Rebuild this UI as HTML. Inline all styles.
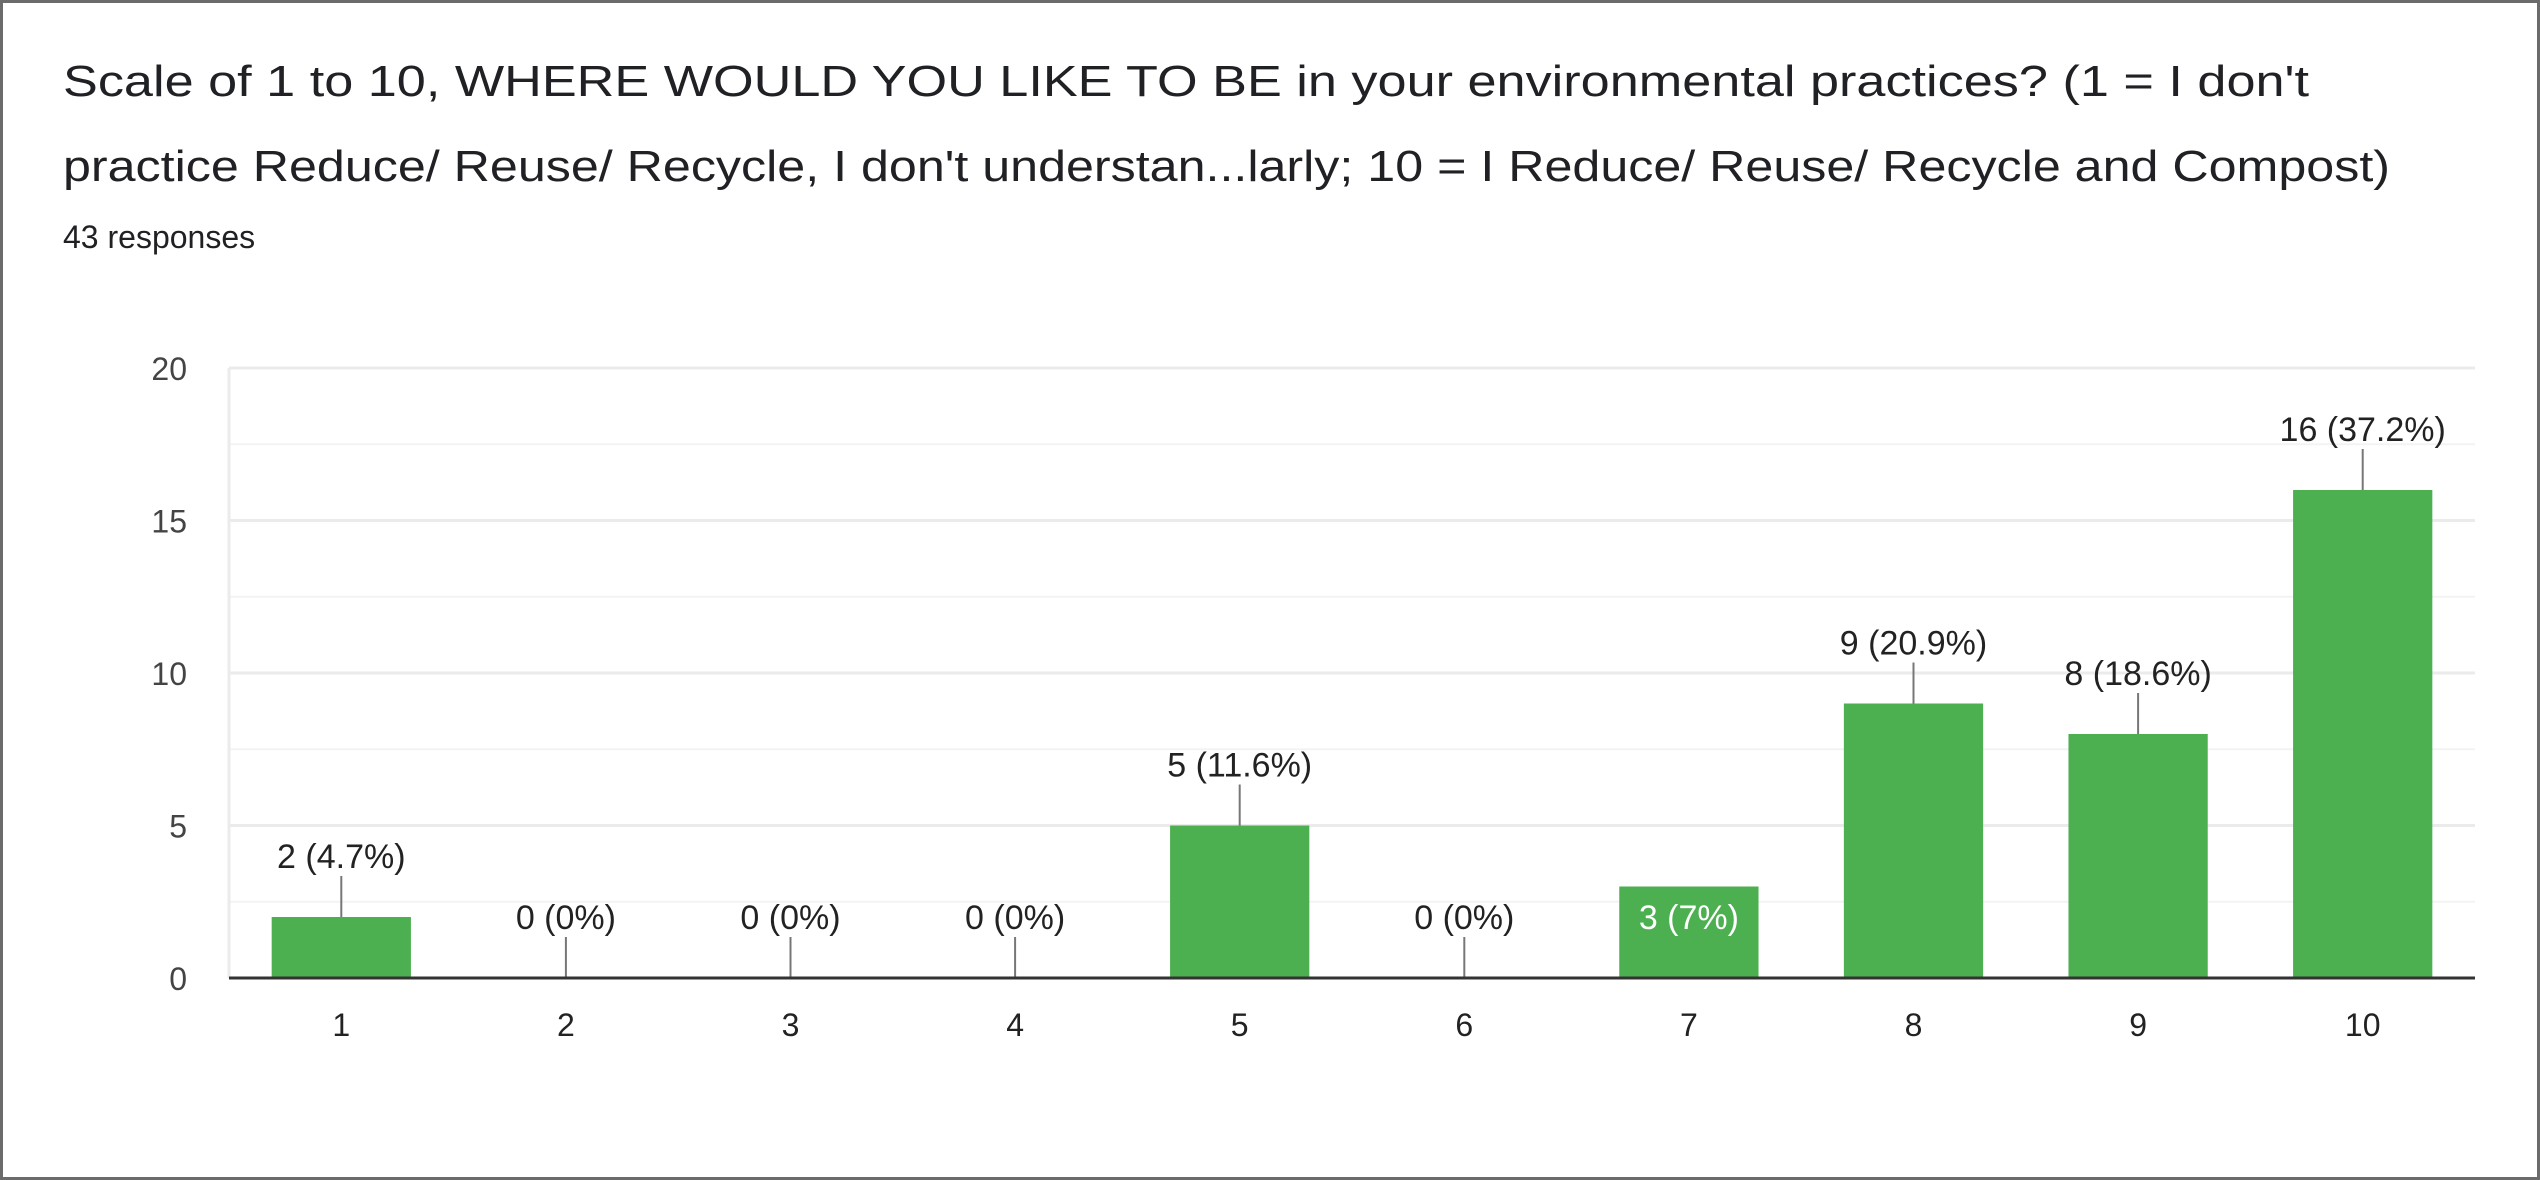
<!DOCTYPE html>
<html><head><meta charset="utf-8"><style>
html,body{margin:0;padding:0;background:#fff;}
svg{display:block;font-family:"Liberation Sans",Arial,sans-serif;}
</style></head><body>
<svg id="chart" width="2540" height="1180" viewBox="0 0 2540 1180" xmlns="http://www.w3.org/2000/svg">
<rect x="1.5" y="1.5" width="2537" height="1177" fill="#fff" stroke="#6b6b6b" stroke-width="3"/>
<text x="63" y="96" font-size="44" fill="#202124" textLength="2246" lengthAdjust="spacingAndGlyphs">Scale of 1 to 10, WHERE WOULD YOU LIKE TO BE in your environmental practices? (1 = I don't</text>
<text x="63" y="181" font-size="44" fill="#202124" textLength="2327" lengthAdjust="spacingAndGlyphs">practice Reduce/ Reuse/ Recycle, I don't understan...larly; 10 = I Reduce/ Reuse/ Recycle and Compost)</text>
<text x="63" y="248" font-size="32" fill="#202124">43 responses</text>
<g id="plot"></g>
</svg>
<script>
const categories = ["1","2","3","4","5","6","7","8","9","10"];
const counts = [2,0,0,0,5,0,3,9,8,16];
const percents = ["4.7%","0%","0%","0%","11.6%","0%","7%","20.9%","18.6%","37.2%"];
const yTicks = [0,5,10,15,20];
const yMax = 20;

const NS = "http://www.w3.org/2000/svg";
const g = document.getElementById("plot");
const L = 229, R = 2475, T = 368, B = 978;
const band = (R - L) / categories.length;
const barW = band * 0.62;
function yScale(v){ return B - (v / yMax) * (B - T); }
function xCenter(i){ return L + band * (i + 0.5); }
function mk(tag, attrs){ const e = document.createElementNS(NS, tag); for (const k in attrs) e.setAttribute(k, attrs[k]); g.appendChild(e); return e; }

for (let v = 2.5; v < yMax; v += 5) {
  const m = mk("line", {x1:L, x2:R, y1:yScale(v), y2:yScale(v), stroke:"#f3f3f3", "stroke-width":2});
  
  
}
yTicks.forEach(v => {
  if (v > 0) {
    const l = mk("line", {x1:L, x2:R, y1:yScale(v), y2:yScale(v), stroke:"#ebebeb", "stroke-width":3});
    
    
  }
  const t = mk("text", {x:187, y:yScale(v) + 12, "font-size":32, fill:"#444", "text-anchor":"end"});
  t.textContent = v;
  
  
});
const vl = mk("line", {x1:L, x2:L, y1:T, y2:B, stroke:"#ebebeb", "stroke-width":3});



categories.forEach((c, i) => {
  const cx = xCenter(i), v = counts[i], top = yScale(v);
  const label = v + " (" + percents[i] + ")";
  if (v > 0) {
    const r = mk("rect", {x:cx - barW/2, y:top, width:barW, height:B - top, fill:"#4caf50"});
    
    
  }
  const h = B - top;
  const insideLabel = v > 0 && h >= 80 && h < 120;
  if (insideLabel) {
    const t = mk("text", {x:cx, y:B - 49, "font-size":34, fill:"#fff", "text-anchor":"middle"});
    t.textContent = label;
    
    
  } else {
    const ln = mk("line", {x1:cx, x2:cx, y1:top, y2:top - 41, stroke:"#777", "stroke-width":2});
    
    
    const t = mk("text", {x:cx, y:top - 49, "font-size":34, fill:"#222", "text-anchor":"middle"});
    t.textContent = label;
    
    
  }
  const xt = mk("text", {x:cx, y:1036, "font-size":32, fill:"#222", "text-anchor":"middle"});
  xt.textContent = c;
  
  
});
const ax = mk("line", {x1:L, x2:R, y1:B, y2:B, stroke:"#333", "stroke-width":3});


</script>
</body></html>
